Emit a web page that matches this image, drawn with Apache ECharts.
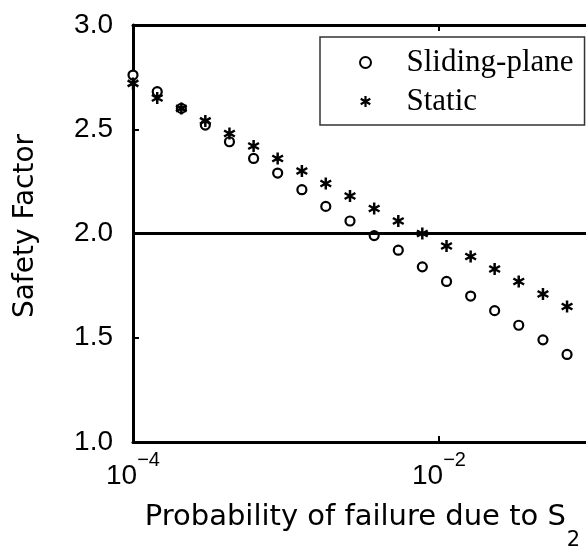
<!DOCTYPE html>
<html><head><meta charset="utf-8">
<script src="https://cdn.jsdelivr.net/npm/echarts@6/dist/echarts.min.js"></script>
<style>html,body{margin:0;padding:0;background:#fff}#c{width:586px;height:552px}</style>
</head><body><div id="c"></div>
<script>
// Probability of failure due to S2 (x, log scale)
const probability = [1.00e-4, 1.44e-4, 2.07e-4, 2.97e-4, 4.27e-4, 6.14e-4, 8.82e-4, 1.27e-3, 1.82e-3, 2.62e-3, 3.77e-3, 5.42e-3, 7.78e-3, 1.12e-2, 1.61e-2, 2.31e-2, 3.32e-2, 4.78e-2, 6.87e-2];
// Safety factor, sliding-plane method (open circles)
const slidingPlane = [2.76, 2.68, 2.60, 2.52, 2.44, 2.36, 2.29, 2.21, 2.13, 2.06, 1.99, 1.92, 1.84, 1.77, 1.70, 1.63, 1.56, 1.49, 1.42];
// Safety factor, static method (asterisks)
const staticSF = [2.72, 2.65, 2.60, 2.54, 2.48, 2.42, 2.36, 2.30, 2.24, 2.18, 2.12, 2.06, 2.00, 1.94, 1.89, 1.83, 1.77, 1.71, 1.65];
const seriesNames = ['Sliding-plane', 'Static'];
const yTicks = [1.0, 1.5, 2.0, 2.5, 3.0];
const xTickExponents = [-4, -2];
const xMin = 1e-4, xMax = 1e-1;
const thresholdSF = 2.0;

const starPath = 'path://M60 0L40 0L40 100L60 100Z M98.3 33.66L88.3 16.34L1.7 66.34L11.7 83.66Z M88.3 83.66L98.3 66.34L11.7 16.34L1.7 33.66Z';
const black = '#000';
const tickFont = 'Liberation Sans';
const titleFont = 'DejaVu Sans';

function xLabel(v) {
  const e = Math.log10(v);
  const r = Math.round(e);
  if (Math.abs(e - r) < 1e-6 && xTickExponents.indexOf(r) >= 0) {
    return '{b|10}{s|\u2212' + Math.abs(r) + '}';
  }
  return '';
}
const xRich = {
  b: { fontFamily: tickFont, fontSize: 28, lineHeight: 28, padding: [12, 0, 0, 0], verticalAlign: 'top', color: black },
  s: { fontFamily: tickFont, fontSize: 20, lineHeight: 20, verticalAlign: 'top', color: black }
};

const chart = echarts.init(document.getElementById('c'), null, { renderer: 'canvas' });
const axisLineStyle = { show: true, lineStyle: { color: black, width: 3 } };
const tickStyle = { show: true, inside: true, length: 6, lineStyle: { color: black, width: 2 } };

chart.setOption({
  animation: false,
  backgroundColor: '#fff',
  grid: { left: 133, right: -6, top: 25, bottom: 110, containLabel: false, outerBoundsMode: 'none' },
  legend: {
    orient: 'vertical', left: 320, top: 37,
    padding: [10, 11, 8, 39],
    itemWidth: 72, itemHeight: 11, itemGap: 8,
    borderColor: '#333', borderWidth: 1.5,
    selectedMode: false,
    itemStyle: { opacity: 1 },
    textStyle: { fontFamily: 'Liberation Serif', fontSize: 31, lineHeight: 30, color: black },
    data: [{ name: seriesNames[0], icon: 'circle' }, { name: seriesNames[1], icon: starPath }]
  },
  xAxis: [{
    type: 'log', logBase: 100, min: xMin, max: xMax, splitNumber: 2,
    axisLine: axisLineStyle, axisTick: tickStyle,
    minorTick: { show: false }, splitLine: { show: false },
    axisLabel: { margin: 8, formatter: xLabel, rich: xRich },
    name: '{m|Probability of failure due to S}{u|2}',
    nameLocation: 'middle', nameGap: 61,
    nameTextStyle: {
      rich: {
        m: { fontFamily: titleFont, fontSize: 29, lineHeight: 30, verticalAlign: 'top', color: black },
        u: { fontFamily: titleFont, fontSize: 21, lineHeight: 22, padding: [27, 0, 0, 1], verticalAlign: 'top', color: black }
      }
    }
  }, {
    type: 'log', logBase: 100, min: xMin, max: xMax, splitNumber: 2, position: 'top',
    axisLine: axisLineStyle, axisTick: tickStyle,
    minorTick: { show: false }, splitLine: { show: false },
    axisLabel: { show: false }
  }],
  yAxis: [{
    type: 'value', min: 1, max: 3, interval: 0.5,
    axisLine: axisLineStyle, axisTick: tickStyle, splitLine: { show: false },
    axisLabel: {
      margin: 20, fontFamily: tickFont, fontSize: 28, color: black,
      formatter: function (v) { return yTicks.some(t => Math.abs(t - v) < 1e-9) ? v.toFixed(1) : ''; }
    },
    name: 'Safety Factor', nameLocation: 'middle', nameGap: 92,
    nameTextStyle: { fontFamily: titleFont, fontSize: 28, lineHeight: 30, color: black, padding: [0, 0, 0, 15] }
  }],
  series: [{
    name: seriesNames[0], type: 'scatter',
    data: probability.map((p, i) => [p, slidingPlane[i]]),
    symbol: 'circle', symbolSize: 9,
    itemStyle: { color: '#fff', borderColor: black, borderWidth: 2.2, opacity: 1 },
    emphasis: { disabled: true }, z: 3
  }, {
    name: seriesNames[1], type: 'scatter',
    data: probability.map((p, i) => [p, staticSF[i]]),
    symbol: starPath, symbolSize: 12,
    itemStyle: { color: black, opacity: 1 },
    emphasis: { disabled: true }, z: 3,
    markLine: {
      silent: true, animation: false, symbol: ['none', 'none'],
      label: { show: false },
      lineStyle: { color: black, width: 3, type: 'solid' },
      emphasis: { disabled: true },
      data: [{ yAxis: thresholdSF }]
    }
  }]
});
</script></body></html>
